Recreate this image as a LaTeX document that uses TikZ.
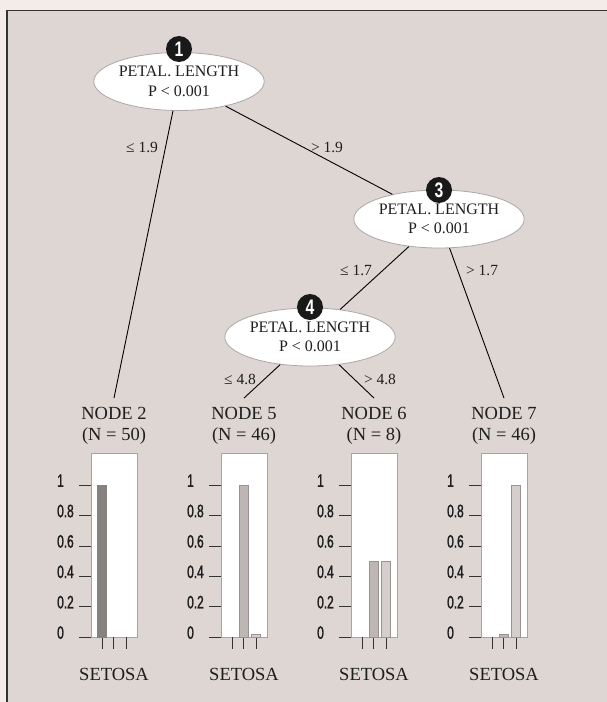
\documentclass[tikz,border=0pt]{standalone}
\usepackage{fontspec}
\setmainfont{Liberation Serif}
\newfontfamily\narrowsans[FakeStretch=0.66,FakeBold=1.4]{Liberation Sans}
\newfontfamily\circsans[FakeStretch=0.75]{Liberation Sans Bold}
\usetikzlibrary{shapes.geometric}
\definecolor{outerbg}{HTML}{F3ECE9}
\definecolor{innerbg}{HTML}{DDD6D3}
\definecolor{txt}{HTML}{1E1E1E}
\definecolor{ellborder}{HTML}{ADA7A5}
\definecolor{boxborder}{HTML}{A8A2A0}
\definecolor{cone}{HTML}{878180}
\definecolor{ctwo}{HTML}{BDB6B4}
\definecolor{cthree}{HTML}{D5CECC}
\definecolor{barline}{HTML}{9A9391}
\tikzset{
  frameline/.style={draw=black!80, line width=1.2pt},
  splitnode/.style={ellipse, draw=ellborder, line width=0.8pt, fill=white,
    minimum width=162pt, minimum height=58pt, inner sep=0pt, align=center,
    text=txt, font=\fontsize{16}{19.4}\selectfont},
  numcircle/.style={circle, fill=black!90, minimum size=26pt, inner sep=0pt,
    text=white, font=\circsans\fontsize{21}{21}\selectfont},
  edge/.style={draw=black, line width=0.9pt},
  edgelab/.style={text=txt, inner sep=0pt, font=\fontsize{15.5}{18}\selectfont},
  nodelab/.style={anchor=base, inner sep=0pt, outer sep=9pt, text=txt,
    font=\fontsize{18.5}{21}\selectfont},
  chartbox/.style={draw=boxborder, line width=0.8pt, fill=white},
  ytick/.style={draw=black!80, line width=0.9pt},
  xtick/.style={draw=black!80, line width=0.9pt},
  ticklab/.style={anchor=base west, inner sep=0pt, text=txt,
    font=\narrowsans\fontsize{18}{18}\selectfont},
  catlab/.style={anchor=base, inner sep=0pt, text=txt,
    font=\fontsize{18.5}{21}\selectfont},
  barone/.style={fill=cone, draw=cone, line width=0.6pt},
  bartwo/.style={fill=ctwo, draw=barline, line width=0.6pt},
  barthree/.style={fill=cthree, draw=barline, line width=0.6pt},
}
\newcommand\drawchart[2]{%
  \begin{scope}[shift={(#2,0)}]
    \draw[chartbox] (0,453.3) rectangle (46,637.3);
    \foreach \v/\lab [count=\i] in {0/0,0.2/0.2,0.4/0.4,0.6/0.6,0.8/0.8,1/1}{
      \draw[ytick] (-12,637.3-152*\v) -- (0,637.3-152*\v);
      \node[ticklab] (#1-t\i) at (-34,638.8-152*\v) {\lab};
    }
    \foreach \xx in {11,22.7,35}{
      \draw[xtick] (\xx,637.3) -- (\xx,649);
    }
    \node[catlab] (#1-cat) at (23,680) {SETOSA};
  \end{scope}}
\begin{document}
\begin{tikzpicture}[x=1pt,y=-1pt]
\useasboundingbox (0,0) rectangle (607,702);
\fill[outerbg] (0,0) rectangle (607,702);
\fill[innerbg] (7,10.5) rectangle (607,702);
\draw[frameline] (7,702) -- (7,10.5) -- (607,10.5);

% split nodes
\node[splitnode] (e1) at (179,81.5) {PETAL. LENGTH\\P < 0.001};
\node[splitnode] (e3) at (439,219) {PETAL. LENGTH\\P < 0.001};
\node[splitnode] (e4) at (310,337) {PETAL. LENGTH\\P < 0.001};
\node[numcircle] (c1) at (179,49) {1};
\node[numcircle] (c3) at (439,190) {3};
\node[numcircle] (c4) at (310,307) {4};

% terminal labels
\node[nodelab] (n2) at (114,419.3) {NODE 2};
\node[nodelab] (n2n) at (114,440) {(N = 50)};
\node[nodelab] (n5) at (244,419.3) {NODE 5};
\node[nodelab] (n5n) at (244,440) {(N = 46)};
\node[nodelab] (n6) at (374,419.3) {NODE 6};
\node[nodelab] (n6n) at (374,440) {(N = 8)};
\node[nodelab] (n7) at (504,419.3) {NODE 7};
\node[nodelab] (n7n) at (504,440) {(N = 46)};

% connectors
\draw[edge] (e1) -- (n2.north);
\draw[edge] (e1) -- (e3);
\draw[edge] (e3) -- (e4);
\draw[edge] (e3) -- (n7.north);
\draw[edge] (e4) -- (n5.north);
\draw[edge] (e4) -- (n6.north);

% edge labels
\node[edgelab] (l12) at (142,147.5) {≤ 1.9};
\node[edgelab] (l13) at (327,147.5) {> 1.9};
\node[edgelab] (l34) at (356,270.5) {≤ 1.7};
\node[edgelab] (l37) at (482,270.5) {> 1.7};
\node[edgelab] (l45) at (240,379.5) {≤ 4.8};
\node[edgelab] (l46) at (380,379.5) {> 4.8};

% charts
\drawchart{ca}{91}
\drawchart{cb}{221}
\drawchart{cc}{351}
\drawchart{cd}{481}

% bars
\draw[barone] (91+6.5,637.3) rectangle ++(9,-152);
\draw[bartwo] (221+18.2,637.3) rectangle ++(9,-152);
\draw[barthree] (221+30.5,637.3) rectangle ++(9,-3);
\draw[bartwo] (351+18.2,637.3) rectangle ++(9,-76);
\draw[barthree] (351+30.5,637.3) rectangle ++(9,-76);
\draw[bartwo] (481+18.2,637.3) rectangle ++(9,-3);
\draw[barthree] (481+30.5,637.3) rectangle ++(9,-152);
\end{tikzpicture}
\end{document}
